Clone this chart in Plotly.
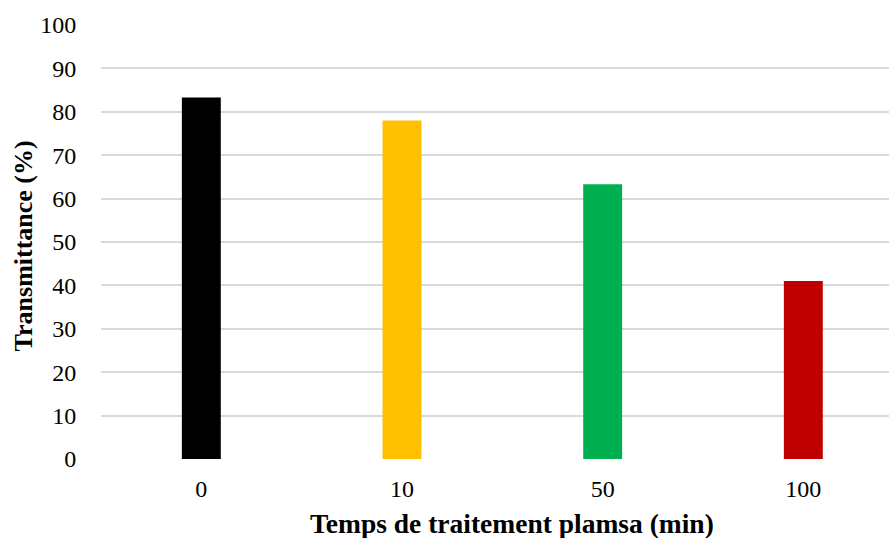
import plotly.graph_objects as go

# Treatment times (min) and measured transmittance (%)
temps = ["0", "10", "50", "100"]
transmittance = [83.3, 78.0, 63.3, 41.0]
couleurs = ["#000000", "#FFC000", "#00B050", "#C00000"]

y_ticks = list(range(0, 101, 10))

W, H = 889, 538
left, top, bottom = 101, 24.5, 79.3
plot_w = W - left
plot_h = H - top - bottom
y0_px = H - bottom


def px_to_paper(px, py):
    """Convert a pixel position on the page to plot-domain paper coordinates."""
    return (px - left) / plot_w, (y0_px - py) / plot_h


fig = go.Figure(
    go.Bar(
        x=list(range(len(temps))),
        y=transmittance,
        marker=dict(color=couleurs, line=dict(width=0)),
        width=0.194,
        hoverinfo="x+y",
    )
)

font_serif = "Liberation Serif, Times New Roman, serif"

xt_x, xt_y = px_to_paper(512, 523)
yt_x, yt_y = px_to_paper(23, 246)

fig.update_layout(
    width=W,
    height=H,
    margin=dict(l=left, r=0, t=top, b=bottom, pad=0),
    plot_bgcolor="white",
    paper_bgcolor="white",
    showlegend=False,
    font=dict(family=font_serif, size=24, color="#000000"),
    xaxis=dict(
        tickmode="array",
        tickvals=list(range(len(temps))),
        ticktext=temps,
        range=[-0.5, 3.427],
        showgrid=False,
        zeroline=False,
        showline=False,
        ticks="outside",
        ticklen=8,
        tickcolor="rgba(0,0,0,0)",
        tickfont=dict(size=24),
    ),
    yaxis=dict(
        range=[0, 100],
        tickvals=y_ticks,
        showgrid=True,
        gridcolor="#D9D9D9",
        gridwidth=1.5,
        zeroline=False,
        showline=False,
        ticks="outside",
        ticklen=19,
        tickcolor="rgba(0,0,0,0)",
        tickfont=dict(size=24),
    ),
    annotations=[
        dict(
            text="<b>Temps de traitement plamsa (min)</b>",
            x=xt_x, y=xt_y,
            xref="paper", yref="paper",
            xanchor="center", yanchor="middle",
            showarrow=False,
            font=dict(size=27.5, family=font_serif),
        ),
        dict(
            text="<b>Transmittance (%)</b>",
            x=yt_x, y=yt_y,
            xref="paper", yref="paper",
            xanchor="center", yanchor="middle",
            textangle=-90,
            showarrow=False,
            font=dict(size=26, family=font_serif),
        ),
    ],
)

fig.write_html("out.html")
